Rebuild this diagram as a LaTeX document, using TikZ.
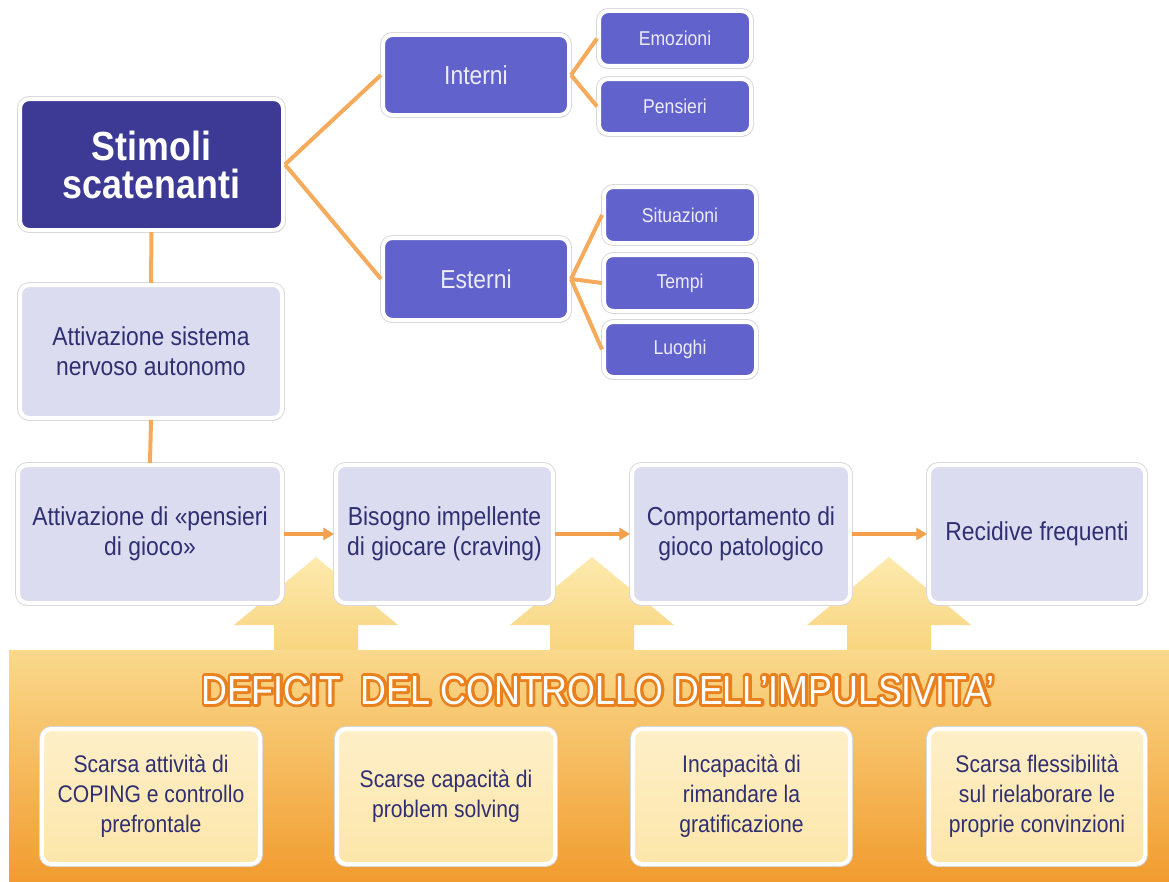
\documentclass[tikz,border=0pt]{standalone}
\usepackage{fontspec}
\setmainfont{Liberation Sans}[FakeStretch=0.88]
\newfontfamily\glowfont{Liberation Sans}[FakeStretch=0.88, FakeBold=14]
\usetikzlibrary{arrows.meta,shadows}
\definecolor{darkbox}{HTML}{3C3A94}
\definecolor{midbox}{HTML}{6262CC}
\definecolor{lightbox}{HTML}{DCDCF1}
\definecolor{navytext}{HTML}{2F2F72}
\definecolor{smalltext}{HTML}{ECECF8}
\definecolor{linkorange}{HTML}{F5AA5C}
\definecolor{arroworange}{HTML}{F39F4C}
\definecolor{bandtop}{HTML}{FAD98C}
\definecolor{bandmid}{HTML}{F6C342}
\definecolor{bandbot}{HTML}{F19C2F}
\definecolor{arrtop}{HTML}{FDEAAE}
\definecolor{arrbot}{HTML}{F8D37C}
\definecolor{creamtop}{HTML}{FEEFC8}
\definecolor{creambot}{HTML}{FCE6A9}
\definecolor{glow}{HTML}{E8801E}
\definecolor{rim}{HTML}{D8D8DC}
\newcommand\bx[7]{\node[#2, minimum width={(#5-#3-4)*0.75pt}, minimum height={(#6-#4-4)*0.75pt}] (#1) at ({(#3+#5)/2},{(#4+#6)/2}) {#7};}
\tikzset{
  box/.style={rounded corners=7pt, draw=white, line width=3pt, inner sep=0pt, align=center,
    preaction={draw=rim, line width=4.4pt},
    drop shadow={shadow xshift=0.6pt, shadow yshift=-1.6pt, opacity=0.25, fill=black!60}},
  stimbox/.style={box, fill=darkbox, text=white, font=\bfseries\fontsize{30.5}{28.5}\selectfont},
  catbox/.style={box, fill=midbox, text=smalltext, font=\fontsize{19.5}{22.5}\selectfont},
  subbox/.style={box, fill=midbox, text=smalltext, font=\fontsize{15}{18}\selectfont},
  procbox/.style={box, fill=lightbox, text=navytext, font=\fontsize{19.5}{22.5}\selectfont},
  defbox/.style={box, top color=creamtop, bottom color=creambot, text=navytext, font=\fontsize{18}{22.5}\selectfont},
  link/.style={draw=linkorange, line width=3pt},
  flow/.style={draw=arroworange, line width=2.3pt, -{Triangle[length=8pt,width=9pt]}},
  blockarrow/.style={top color=arrtop, bottom color=arrbot},
  titlefont/.style={font=\fontsize{30.5}{34}\selectfont, inner sep=0pt}
}
\begin{document}
\begin{tikzpicture}[x=0.75pt,y=-0.75pt]
\useasboundingbox[fill=white] (0,0) rectangle (1169,881);
% block arrows rising from the band
\foreach \c in {316,592,889}{
  \shade[blockarrow] ({\c-42},656) -- ({\c-42},625) -- ({\c-82},625) -- (\c,557) -- ({\c+82},625) -- ({\c+42},625) -- ({\c+42},656) -- cycle;
}
% band
\shade[top color=bandtop, middle color=bandmid, bottom color=bandbot] (9,650) rectangle (1169,881);
% title with orange outline
\node[titlefont, text=glow, line join=round] (titleglow) at (598,690) {\glowfont DEFICIT\ \ DEL CONTROLLO DELL’IMPULSIVITA’};
\node[titlefont, text=white] (title) at (598,690) {DEFICIT\ \ DEL CONTROLLO DELL’IMPULSIVITA’};
% top part
\bx{stim}{stimbox}{18}{97}{285}{232}{Stimoli\\scatenanti}
\bx{ans}{procbox}{18}{283}{284}{420}{Attivazione sistema\\nervoso autonomo}
\bx{int}{catbox}{381}{33}{571}{117}{Interni}
\bx{est}{catbox}{381}{236}{571}{322}{Esterni}
\bx{emo}{subbox}{597}{9}{753}{68}{Emozioni}
\bx{pen}{subbox}{597}{77}{753}{136}{Pensieri}
\bx{sit}{subbox}{602}{185}{758}{245}{Situazioni}
\bx{tem}{subbox}{602}{253}{758}{313}{Tempi}
\bx{luo}{subbox}{602}{320}{758}{379}{Luoghi}
% process row
\bx{p1}{procbox}{16}{463}{284}{605}{Attivazione di «pensieri\\di gioco»}
\bx{p2}{procbox}{334}{463}{555}{605}{Bisogno impellente\\di giocare (craving)}
\bx{p3}{procbox}{630}{463}{852}{605}{Comportamento di\\gioco patologico}
\bx{p4}{procbox}{927}{463}{1147}{605}{Recidive frequenti}
% deficit boxes
\bx{b1}{defbox}{40}{727}{262}{866}{Scarsa attività di\\COPING e controllo\\prefrontale}
\bx{b2}{defbox}{335}{727}{557}{866}{Scarse capacità di\\problem solving}
\bx{b3}{defbox}{631}{727}{852}{866}{Incapacità di\\rimandare la\\gratificazione}
\bx{b4}{defbox}{927}{727}{1147}{866}{Scarsa flessibilità\\sul rielaborare le\\proprie convinzioni}
% connectors
\draw[link] (stim.east) -- (int.west);
\draw[link] (stim.east) -- (est.west);
\draw[link] (int.east) -- (emo.west);
\draw[link] (int.east) -- (pen.west);
\draw[link] (est.east) -- (sit.west);
\draw[link] (est.east) -- (tem.west);
\draw[link] (est.east) -- (luo.west);
\draw[link] (stim.south) -- (ans.north);
\draw[link] (ans.south) -- (p1.north);
\draw[flow] (p1.east) -- (p2.west);
\draw[flow] (p2.east) -- (p3.west);
\draw[flow] (p3.east) -- (p4.west);
\end{tikzpicture}
\end{document}
